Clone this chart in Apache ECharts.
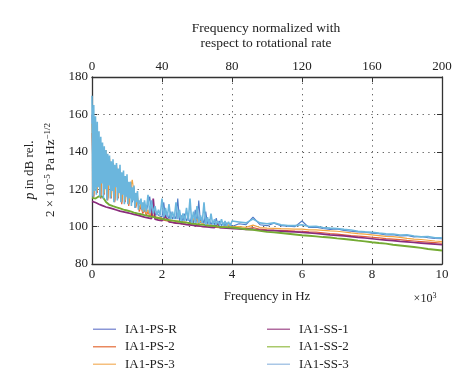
<!DOCTYPE html>
<html><head><meta charset="utf-8">
<script src="https://cdn.jsdelivr.net/npm/echarts@6/dist/echarts.min.js"></script>
<style>html,body{margin:0;padding:0;background:#fff}#c{width:474px;height:390px}</style>
</head><body><div id="c"></div>
<script>
// Frequency grid in Hz (shared by most series)
const freq = [0,50,100,150,200,250,300,350,400,450,500,550,600,650,700,750,800,850,900,950,
1000,1050,1100,1150,1200,1250,1300,1350,1400,1450,1500,1550,1600,1650,1700,1750,1800,1850,1900,1950,
2000,2050,2100,2150,2200,2250,2300,2350,2400,2450,2500,2550,2600,2650,2700,2750,2800,2850,2900,2950,
3000,3050,3100,3150,3200,3250,3300,3350,3400,3450,3500,3550,3600,3650,3700,3750,3800,3850,3900,3950,4000,
4200,4400,4600,4800,5000,5200,5400,5600,5800,6000,6200,6400,6600,6800,7000,7200,7400,7600,7800,8000,
8200,8400,8600,8800,9000,9200,9400,9600,9800,10000];

// Finer frequency grid for IA1-SS-3
const freqSS3 = [0,25,50,75,100,125,150,175,200,225,250,275,300,325,350,375,400,425,450,475,
500,525,550,575,600,625,650,675,700,725,750,775,800,825,850,875,900,925,950,975,
1000,1025,1050,1075,1100,1125,1150,1175,1200,1225,1250,1275,1300,1325,1350,1375,1400,1425,1450,1475,1500,
1550,1600,1650,1700,1750,1800,1850,1900,1950,
2000,2050,2100,2150,2200,2250,2300,2350,2400,2450,2500,2550,2600,2650,2700,2750,2800,2850,2900,2950,
3000,3050,3100,3150,3200,3250,3300,3350,3400,3450,3500,3550,3600,3650,3700,3750,3800,3850,3900,3950,4000,
4200,4400,4600,4800,5000,5200,5400,5600,5800,6000,6200,6400,6600,6800,7000,7200,7400,7600,7800,8000,
8200,8400,8600,8800,9000,9200,9400,9600,9800,10000];

const seriesNames = ['IA1-PS-R','IA1-PS-2','IA1-PS-3','IA1-SS-1','IA1-SS-2','IA1-SS-3'];
const xTicksBottom = [0,2,4,6,8,10];
const xTicksTop = [0,40,80,120,160,200];
const yTicks = [80,100,120,140,160,180];

const psR = [160,116,150,118,145,115,140,118,138,115,135,117,132,114,131,116,128,113,125,115,
122,112,121,113,118,111,114,110,112,109,110,108,109,116,107,109,106,108,106,107,
105,113,105,107,104,108,104,106,104,115,103,106,103,107,103,105,102,106,102,109,
102,114,102,105,101.5,108,101.5,104,101,103,101,104.5,100.5,103,100.5,102,100.5,102,100,101.5,100,
101.5,101,105,101,100.5,101.8,100.5,100.2,100,103,99.5,99.7,99,98.5,98.8,98,97.5,97.2,97,96.5,
96.2,95.5,95.7,95,95.2,94.5,94.7,94,93.6,93.5];

const ps2 = [150,116,146,118,143,115,141,117,137,114,136,115,134,113,133,115,129,112,126,113,
123,111,124,116,121,110,115,108,111,107,109,106,108,105.5,107,105,106,104.5,105,104,
104.5,103.5,104,103,103.5,102.5,103,102,102.5,102,102.5,101.5,102,101.5,102,101,101.5,101,101.5,100.5,
101,100.5,100.5,100,100.5,100,100,99.8,100,99.8,99.8,99.6,99.8,99.5,99.6,99.4,99.5,99.3,99.4,99.2,99.2,
99,98.8,99.5,98.6,98.3,98.1,98,97.8,97.6,97.5,97.2,97,96.7,96.3,96,95.6,95.2,94.9,94.6,94.3,
94,93.6,93.3,93,92.6,92.3,92,91.7,91.4,91.1];

const ps3 = [155,117,148,119,146,116,143,118,141,115,137,116,134,114,132,116,130,113,127,114,
125,112,121,125,118,111,116,109,112,108,110,107,109,106,108,106,107,105,106,105,
106,104,105,104,105,103.5,104.5,103,104,103,104,102.5,103,102.5,103,102,103,102,104,103.5,
104,101.5,103,101.5,102,101,102,101,101.5,100.5,101.5,100.5,101,100,101,100,100.5,99.8,101,99.8,100,
100,99.6,100.8,99.5,99.2,99.1,98.9,98.8,98.7,98.6,98.3,98.2,98,97.7,97.5,97.1,96.6,96.2,96,95.6,
95.2,94.8,94.6,94.2,93.7,93.3,93.1,92.7,92.3,92];

const ss1 = [113.5,113,112.9,112.2,112,111.7,111.2,111,110.5,110.3,
110,109.6,109.5,109.1,108.9,108.8,108.3,108.2,107.9,107.9,
107.5,107.4,107,106.9,106.5,106.5,106.1,106,105.6,105.5,
105.1,105.1,104.7,104.7,104.3,115,104,103.9,103.5,103.5,
103.2,103.1,105.6,105.5,102.5,102.5,102.2,102.2,101.9,102,
101.7,101.7,101.4,101.5,101.1,101.2,100.9,101,100.7,100.7,
100.4,100.5,100.2,100.3,100,100.1,99.8,99.9,99.6,99.8,
99.5,99.6,102,99.5,99.2,99.3,99.1,99.2,98.9,99.1,99,
98.8,98.5,98.6,98.1,97.9,97.8,97.6,97.3,97.2,96.9,
96.6,96.3,96,95.6,95.3,95,94.6,94.2,93.9,93.5,
93.1,92.8,92.5,92.1,91.8,91.5,91.2,90.9,90.6,90.3];

const ss2 = [115.5,114.8,115,115.6,116.2,115.8,116,114.6,113.2,112.4,
111.6,111.2,110.9,110.5,110.3,109.9,109.7,109.3,109.1,108.8,
108.6,108.2,108.1,107.7,107.5,107.3,107,106.9,106.6,106.3,
106.1,105.9,105.7,105.6,105.3,105.2,104.9,104.8,104.6,104.3,
104.1,104,103.8,103.7,103.4,103.3,103.2,103,102.9,102.7,
102.6,102.5,102.3,102.2,102.1,101.9,101.8,101.7,101.5,101.4,
101.3,101.2,101.1,100.9,100.9,100.7,100.6,100.5,100.4,100.3,
100.3,100.1,100,100,99.8,99.8,99.7,99.6,99.6,99.5,99.5,
99.1,98.6,98.3,97.7,97.2,96.9,96.6,96.2,95.8,95.4,
95.1,94.8,94.4,94.2,93.7,93.4,93,92.5,92.1,91.6,
91.2,90.9,90.3,89.9,89.5,89.1,88.6,88,87.6,87.2];

const ss3 = [170,116,165,119,159,117,156,121,151,116,148,123,145,115,143,120,141,114,139,122,
138,115,135,119,136,113,133,121,134,114,131,118,133,113,129,117,130,112,127,116,
128,112,124,115,124,111,121,114,122,110,118,113,119,109,114,112,115,109,113,108,114,
108,117,107,114,107,111,106,109,106,
115,105,110,105,112,104,108,104,113,104,109,103,107,103,110,103,115,102,108,102,
111,102,106,102,113,101,105,101,107,101,104,101,103,100.5,104,100.5,103,100.5,102.5,100.5,103,
102.5,102,104,102,101.5,102,101,100.5,100.5,101,100,100.2,99.5,99.2,99,98.5,98.2,97.5,97.2,97,
96.5,96.2,96,95.5,95.6,95,94.5,94.7,94,94];

const colors = ['#4d79c6','#e0603a','#f2a541','#8a2c7c','#74ab33','#6bb6dd'];
const legendColors = ['#8a96d6','#e9885e','#f5bf7d','#b06a9f','#a9c96a','#a9c7e6'];
const allValues = [psR, ps2, ps3, ss1, ss2, ss3];
const allFreq = [freq, freq, freq, freq, freq, freqSS3];
const widths = [1.1, 1.2, 1.2, 1.7, 1.9, 1.6];

const chart = echarts.init(document.getElementById('c'), null, {renderer:'canvas'});
const font = '"Liberation Serif", "DejaVu Serif", serif';
const axisLineStyle = {color:'#333', width:1.3};
const splitStyle = {show:true, lineStyle:{color:'#555', type:[1.2,4.5], width:1}};

const series = seriesNames.map((n,i)=>({
  name:n, type:'line', xAxisIndex:0, yAxisIndex:0,
  data: allFreq[i].map((f,j)=>[f, allValues[i][j]]),
  symbol:'none', showSymbol:false, animation:false,
  lineStyle:{color:colors[i], width:widths[i]},
  itemStyle:{color:legendColors[i]}, z: 2 + i
}));

const legendText = {fontFamily:font, fontSize:13, color:'#222', padding:[0,0,0,4], lineHeight:14.5};

const option = {
  animation:false,
  textStyle:{fontFamily:font},
  grid:{left:92, right:32, top:77, bottom:126, containLabel:false},
  xAxis:[
    {type:'value', min:0, max:10000, interval:2000, position:'bottom',
     axisLine:{show:true, onZero:false, lineStyle:axisLineStyle},
     axisTick:{show:true, inside:true, length:5, lineStyle:{color:'#333'}},
     axisLabel:{color:'#222', fontFamily:font, fontSize:13, margin:4,
       formatter:v=>String(v/1000)},
     splitLine:splitStyle},
    {type:'value', min:0, max:200, interval:40, position:'top',
     axisLine:{show:true, onZero:false, lineStyle:axisLineStyle},
     axisTick:{show:true, inside:true, length:5, lineStyle:{color:'#333'}},
     axisLabel:{color:'#222', fontFamily:font, fontSize:13, margin:4},
     splitLine:{show:false}}
  ],
  yAxis:[
    {type:'value', min:80, max:180, interval:20, position:'left',
     axisLine:{show:true, onZero:false, lineStyle:axisLineStyle},
     axisTick:{show:true, inside:true, length:5, lineStyle:{color:'#333'}},
     axisLabel:{color:'#222', fontFamily:font, fontSize:13, margin:4},
     splitLine:splitStyle},
    {type:'value', min:80, max:180, interval:20, position:'right',
     axisLine:{show:true, onZero:false, lineStyle:axisLineStyle},
     axisTick:{show:true, inside:true, length:5, lineStyle:{color:'#333'}},
     axisLabel:{show:false}, splitLine:{show:false}}
  ],
  legend:[
    {data:seriesNames.slice(0,3), orient:'vertical', left:88, top:317,
     itemWidth:23, itemHeight:1.5, itemGap:3, icon:'rect', textStyle:legendText},
    {data:seriesNames.slice(3), orient:'vertical', left:262, top:317,
     itemWidth:23, itemHeight:1.5, itemGap:3, icon:'rect', textStyle:legendText}
  ],
  graphic:[
    {type:'text', x:266, y:28, style:{text:'Frequency normalized with', font:'13.5px '+font, fill:'#222', align:'center', verticalAlign:'middle'}},
    {type:'text', x:266, y:43, style:{text:'respect to rotational rate', font:'13.5px '+font, fill:'#222', align:'center', verticalAlign:'middle'}},
    {type:'text', x:267, y:297, style:{text:'Frequency in Hz', font:'13px '+font, fill:'#222', align:'center', verticalAlign:'middle'}},
    {type:'text', x:425, y:299, style:{text:'{n|×10}{s|3}', align:'center', verticalAlign:'middle', fill:'#222',
      rich:{n:{fontFamily:font, fontSize:12, fill:'#222'}, s:{fontFamily:font, fontSize:8, fill:'#222', padding:[0,0,6,0]}}}},
    {type:'text', x:30, y:170, rotation:Math.PI/2, style:{text:'{i|p} in dB rel.', align:'center', verticalAlign:'middle', fill:'#222',
      rich:{i:{fontFamily:font, fontSize:14, fontStyle:'italic', fill:'#222'}}, font:'13px '+font}},
    {type:'text', x:51, y:170, rotation:Math.PI/2, style:{text:'{n|2 × 10}{s|−5}{n| Pa Hz}{s|−1/2}', align:'center', verticalAlign:'middle', fill:'#222',
      rich:{n:{fontFamily:font, fontSize:13, fill:'#222'}, s:{fontFamily:font, fontSize:9, fill:'#222', padding:[0,0,7,0]}}}}
  ],
  series: series
};
chart.setOption(option);
</script></body></html>
